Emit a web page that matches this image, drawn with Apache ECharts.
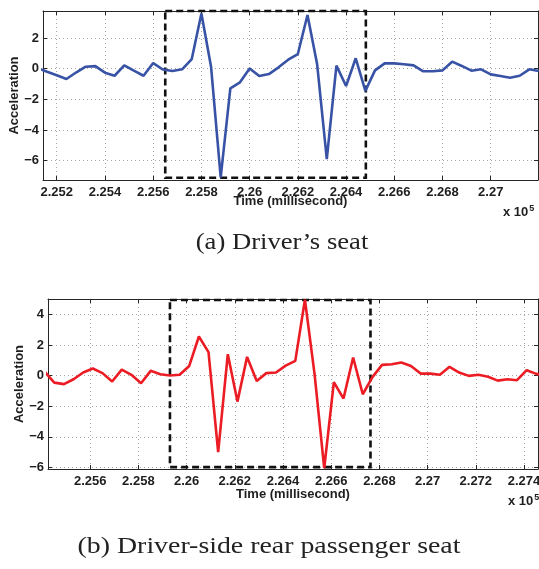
<!DOCTYPE html>
<html>
<head>
<meta charset="utf-8">
<script src="https://cdn.jsdelivr.net/npm/echarts@6/dist/echarts.min.js"></script>
<style>
  html, body { margin: 0; padding: 0; background: #ffffff; }
  #chart { width: 539px; height: 569px; }
</style>
</head>
<body>
<div id="chart"></div>
<script>
// Time stamps are in units of 1e5 milliseconds (axis multiplier shown as "x 10^5").
const timeDriver = [
  2.2512, 2.2516, 2.2520, 2.2524, 2.2528, 2.2532, 2.2536, 2.2540, 2.2544, 2.2548,
  2.2552, 2.2556, 2.2560, 2.2564, 2.2568, 2.2572, 2.2576, 2.2580, 2.2584, 2.2588,
  2.2592, 2.2596, 2.2600, 2.2604, 2.2608, 2.2612, 2.2616, 2.2620, 2.2624, 2.2628,
  2.2632, 2.2636, 2.2640, 2.2644, 2.2648, 2.2652, 2.2656, 2.2660, 2.2664, 2.2668,
  2.2672, 2.2676, 2.2680, 2.2684, 2.2688, 2.2692, 2.2696, 2.2700, 2.2704, 2.2708,
  2.2712, 2.2716, 2.2720
];
const accDriver = [
  0.05, -0.2, -0.43, -0.67, -0.25, 0.13, 0.17, -0.26, -0.46, 0.22,
  -0.13, -0.46, 0.37, -0.05, -0.15, -0.04, 0.63, 3.6, 0.13, -7.1,
  -1.28, -0.89, 0.02, -0.48, -0.35, 0.09, 0.59, 0.96, 3.51, 0.29,
  -5.9, 0.2, -1.13, 0.68, -1.45, -0.11, 0.35, 0.35, 0.29, 0.22,
  -0.17, -0.17, -0.11, 0.46, 0.18, -0.13, -0.04, -0.37, -0.48, -0.59,
  -0.46, -0.04, -0.15
];
const timeRear = [
  2.25411, 2.25451, 2.25491, 2.25531, 2.25571, 2.25611, 2.25651, 2.25691, 2.25731, 2.25771,
  2.25811, 2.25851, 2.25891, 2.25931, 2.25971, 2.26011, 2.26051, 2.26091, 2.26131, 2.26171,
  2.26211, 2.26251, 2.26291, 2.26331, 2.26371, 2.26411, 2.26451, 2.26491, 2.26531, 2.26571,
  2.26611, 2.26651, 2.26691, 2.26731, 2.26771, 2.26811, 2.26851, 2.26891, 2.26931, 2.26971,
  2.27011, 2.27051, 2.27091, 2.27131, 2.27171, 2.27211, 2.27251, 2.27291, 2.27331, 2.27371,
  2.27411, 2.27451, 2.27491
];
const accRear = [
  0.25, -0.46, -0.56, -0.24, 0.2, 0.46, 0.16, -0.39, 0.39, 0.05,
  -0.5, 0.31, 0.09, 0.0, 0.05, 0.63, 2.55, 1.53, -5.0, 1.4,
  -1.7, 1.22, -0.35, 0.16, 0.2, 0.65, 0.96, 4.95, 0.1, -6.05,
  -0.43, -1.5, 1.18, -1.22, -0.1, 0.7, 0.74, 0.85, 0.63, 0.13,
  0.13, 0.05, 0.57, 0.2, -0.02, 0.05, -0.08, -0.33, -0.24, -0.3,
  0.35, 0.11, 0.0
];

// Visible axis ranges
const xRangeDriver = [2.25143, 2.27196];
const yRangeDriver = [-7.27, 3.77];
const xRangeRear = [2.25425, 2.27458];
const yRangeRear = [-6.1, 5.0];

// Highlighted event windows (dashed boxes): [t0, t1] and [yTop, yBottom]
const windowDriverT = [2.2565, 2.26482];
const windowDriverY = [3.77, -7.12];
const windowRearT = [2.25931, 2.26763];
const windowRearY = [4.93, -5.98];

const captions = ['(a) Driver\u2019s seat', '(b) Driver-side rear passenger seat'];
const xName = 'Time (millisecond)';
const yName = 'Acceleration';

const SANS = '"Liberation Sans", Arial, Helvetica, sans-serif';
const SERIF = '"Liberation Serif", "Times New Roman", Times, serif';
const AXIS = '#262626';
const TEXT = '#1e1e1e';

const fmtX = v => String(parseFloat(v.toFixed(3)));
const fmtY = v => {
  const s = String(parseFloat(v.toFixed(2)));
  return s.replace('-', '\u2212');
};

function xAxes(gridIndex, range, nameGap) {
  return [
    {
      type: 'value', gridIndex, position: 'bottom',
      min: range[0], max: range[1], splitNumber: 10,
      axisLine: { show: true, onZero: false, lineStyle: { color: AXIS, width: 1 } },
      axisTick: { show: true, inside: true, length: 4, lineStyle: { color: AXIS } },
      axisLabel: {
        formatter: fmtX, showMinLabel: false, showMaxLabel: false,
        fontFamily: SANS, fontWeight: 'bold', fontSize: 13, color: TEXT, margin: 6
      },
      splitLine: { show: true, lineStyle: { color: '#a8a8a8', type: [1, 3], width: 1 } },
      name: xName, nameLocation: 'middle', nameGap, nameMoveOverlap: false,
      nameTextStyle: { fontFamily: SANS, fontWeight: 'bold', fontSize: 13, color: TEXT }
    },
    {
      type: 'value', gridIndex, position: 'top',
      min: range[0], max: range[1], splitNumber: 10,
      axisLine: { show: true, onZero: false, lineStyle: { color: AXIS, width: 1 } },
      axisTick: { show: true, inside: true, length: 4, lineStyle: { color: AXIS } },
      axisLabel: { show: false },
      splitLine: { show: false }
    }
  ];
}

function yAxes(gridIndex, range, nameGap) {
  return [
    {
      type: 'value', gridIndex, position: 'left',
      min: range[0], max: range[1], splitNumber: 5,
      axisLine: { show: true, onZero: false, lineStyle: { color: AXIS, width: 1 } },
      axisTick: { show: true, inside: true, length: 4, lineStyle: { color: AXIS } },
      axisLabel: {
        formatter: fmtY, showMinLabel: false, showMaxLabel: false,
        fontFamily: SANS, fontWeight: 'bold', fontSize: 13, color: TEXT, margin: 4
      },
      splitLine: { show: true, lineStyle: { color: '#a8a8a8', type: [1, 3], width: 1 } },
      name: yName, nameLocation: 'middle', nameGap, nameRotate: 90, nameMoveOverlap: false,
      nameTextStyle: { fontFamily: SANS, fontWeight: 'bold', fontSize: 13, color: TEXT }
    },
    {
      type: 'value', gridIndex, position: 'right',
      min: range[0], max: range[1], splitNumber: 5,
      axisLine: { show: true, onZero: false, lineStyle: { color: AXIS, width: 1 } },
      axisTick: { show: true, inside: true, length: 4, lineStyle: { color: AXIS } },
      axisLabel: { show: false },
      splitLine: { show: false }
    }
  ];
}

function windowArea(t, y) {
  return {
    silent: true,
    itemStyle: {
      color: 'rgba(0,0,0,0)', borderColor: '#111111', borderWidth: 2.6, borderType: [7, 4]
    },
    data: [[{ coord: [t[0], y[0]] }, { coord: [t[1], y[1]] }]]
  };
}

const chart = echarts.init(document.getElementById('chart'), null, { renderer: 'canvas' });

chart.setOption({
  animation: false,
  backgroundColor: '#ffffff',
  grid: [
    { left: 43, top: 11, width: 495, height: 169, outerBoundsMode: 'none', containLabel: false },
    { left: 48, top: 299, width: 490, height: 170, outerBoundsMode: 'none', containLabel: false }
  ],
  xAxis: [...xAxes(0, xRangeDriver, 15), ...xAxes(1, xRangeRear, 19)],
  yAxis: [...yAxes(0, yRangeDriver, 22), ...yAxes(1, yRangeRear, 22)],
  series: [
    {
      type: 'line', xAxisIndex: 0, yAxisIndex: 0,
      data: timeDriver.map((t, i) => [t, accDriver[i]]),
      showSymbol: false, clip: true,
      lineStyle: { color: '#3853a6', width: 2.6 },
      markArea: windowArea(windowDriverT, windowDriverY)
    },
    {
      type: 'line', xAxisIndex: 2, yAxisIndex: 2,
      data: timeRear.map((t, i) => [t, accRear[i]]),
      showSymbol: false, clip: true,
      lineStyle: { color: '#ec1c24', width: 2.6 },
      markArea: windowArea(windowRearT, windowRearY)
    }
  ],
  graphic: [
    {
      type: 'text', left: 503, top: 204,
      style: {
        text: 'x 10{s|5}', fill: TEXT,
        font: 'bold 13px ' + SANS,
        rich: { s: { fontSize: 9, fontWeight: 'bold', fontFamily: SANS, verticalAlign: 'top', padding: [0, 0, 8, 1] } }
      }
    },
    {
      type: 'text', left: 508, top: 493,
      style: {
        text: 'x 10{s|5}', fill: TEXT,
        font: 'bold 13px ' + SANS,
        rich: { s: { fontSize: 9, fontWeight: 'bold', fontFamily: SANS, verticalAlign: 'top', padding: [0, 0, 8, 1] } }
      }
    },
    {
      type: 'text', x: 282, y: 243, scaleX: 1.11,
      style: { text: captions[0], fill: '#222222', font: '24px ' + SERIF, align: 'center', verticalAlign: 'middle' }
    },
    {
      type: 'text', x: 269, y: 547, scaleX: 1.16,
      style: { text: captions[1], fill: '#222222', font: '24px ' + SERIF, align: 'center', verticalAlign: 'middle' }
    }
  ]
});
</script>
</body>
</html>
